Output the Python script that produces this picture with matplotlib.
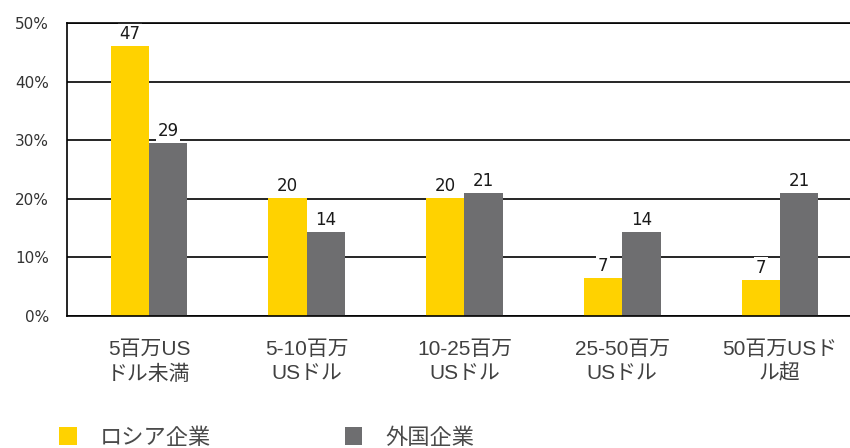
import matplotlib
matplotlib.use("Agg")
import matplotlib.pyplot as plt
import numpy as np

categories = ["5百万US\nドル未満", "5-10百万\nUSドル", "10-25百万\nUSドル", "25-50百万\nUSドル", "50百万USド\nル超"]
series_names = ["ロシア企業", "外国企業"]
russian = [46.1, 20.2, 20.2, 6.5, 6.2]
foreign = [29.6, 14.3, 21.0, 14.3, 21.0]
russian_labels = ["47", "20", "20", "7", "7"]
foreign_labels = ["29", "14", "21", "14", "21"]
yticks = [0, 10, 20, 30, 40, 50]
ytick_labels = ["0%", "10%", "20%", "30%", "40%", "50%"]

YELLOW = "#FFD200"
GRAY = "#6E6E70"

fig = plt.figure(figsize=(8.5, 4.48), dpi=100)
ax = fig.add_axes([67/850, (448-316)/448, 1 - 67/850, (316-23)/448])

x = np.arange(len(categories))
w = 0.243
b1 = ax.bar(x - w/2, russian, width=w, color=YELLOW, label=series_names[0], zorder=2)
b2 = ax.bar(x + w/2, foreign, width=w, color=GRAY, label=series_names[1], zorder=2)

lab_kw = dict(padding=2, fontsize=12, color="#1a1a1a", family="DejaVu Sans",
              bbox=dict(facecolor="white", edgecolor="none", pad=1.2), zorder=2.2)
ax.bar_label(b1, labels=russian_labels, **lab_kw)
ax.bar_label(b2, labels=foreign_labels, **lab_kw)

ax.set_xlim(-0.52, 4.444)
ax.set_ylim(0, 50)
ax.set_yticks(yticks)
ax.set_yticklabels(ytick_labels, fontsize=11, color="#333333", family="DejaVu Sans")
ax.set_xticks(x)
ax.set_xticklabels(categories, fontsize=15, color="#404040",
                   family=["Liberation Sans", "Noto Sans CJK JP"], linespacing=1.38)
ax.tick_params(axis="x", length=0, pad=17)
ax.tick_params(axis="y", length=0, pad=13)

ax.yaxis.grid(True, color="black", linewidth=1.2, zorder=1)
ax.set_axisbelow(True)
for s in ["left", "bottom", "top"]:
    ax.spines[s].set_color("black")
    ax.spines[s].set_linewidth(1.2)
    ax.spines[s].set_zorder(2.5)
ax.spines["right"].set_visible(False)

fig.legend(handles=[b1, b2], labels=series_names, loc="center left",
           bbox_to_anchor=(59/850, 1 - 437/448), ncol=2, frameon=False,
           prop={"family": ["Noto Sans CJK JP", "DejaVu Sans"], "size": 16},
           labelcolor="#4a4a4a",
           handlelength=0.8, handleheight=0.85, handletextpad=1.05,
           columnspacing=6.0, borderpad=0, borderaxespad=0)

fig.savefig("out.png", dpi=100)
